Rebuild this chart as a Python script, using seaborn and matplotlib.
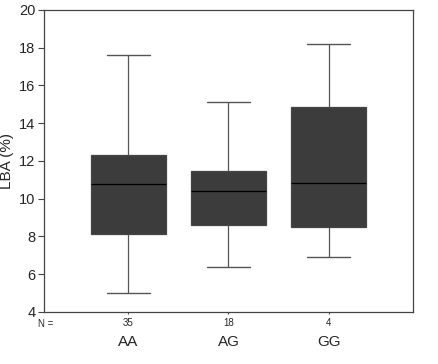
import numpy as np
import pandas as pd
import matplotlib
matplotlib.use('Agg')
import matplotlib.pyplot as plt
import matplotlib.transforms as mtransforms
import seaborn as sns

# Box statistics: min, Q1, median, Q3, max
genotypes = ['AA', 'AG', 'GG']
counts = [35, 18, 4]
lba_min = [5.0, 6.4, 6.9]
lba_q1 = [8.15, 8.6, 8.5]
lba_median = [10.8, 10.4, 10.85]
lba_q3 = [12.3, 11.45, 14.85]
lba_max = [17.6, 15.1, 18.2]

# five values per group reproduce exactly these quartiles with linear interpolation
rows = []
for i, g in enumerate(genotypes):
    for v in (lba_min[i], lba_q1[i], lba_median[i], lba_q3[i], lba_max[i]):
        rows.append({'genotype': g, 'lba': v})
df = pd.DataFrame(rows)

sns.set_style('white')
plt.rcParams['font.family'] = ['Liberation Sans', 'DejaVu Sans']

fig, ax = plt.subplots(figsize=(4.39, 3.64), dpi=100)
fig.subplots_adjust(left=0.1, right=0.941, top=0.973, bottom=0.143)

sns.boxplot(data=df, x='genotype', y='lba', order=genotypes, whis=(0, 100),
            width=0.75, color='#3c3c3c', saturation=1, linewidth=0.9,
            linecolor='#555555', showfliers=False,
            medianprops={'color': 'black', 'linewidth': 0.9},
            capprops={'color': '#555555', 'linewidth': 1.0},
            boxprops={'edgecolor': '#444444'}, ax=ax)

# caps narrower than the boxes
for line in ax.lines:
    xd = line.get_xdata()
    yd = line.get_ydata()
    if len(xd) == 2 and yd[0] == yd[1] and yd[0] in lba_min + lba_max:
        c = (xd[0] + xd[1]) / 2
        line.set_xdata([c - 0.215, c + 0.215])

ax.set_xlim(-0.84, 2.84)
ax.set_ylim(4, 20)
ax.set_yticks(np.arange(4, 21, 2))
ax.tick_params(axis='y', labelsize=10.5, length=4, width=0.8, color='#444444', direction='out', left=True, pad=2)
ax.tick_params(axis='x', labelsize=7, length=1.5, width=0.8, color='#444444', direction='out', bottom=True, pad=3)
ax.set_xticks(range(len(genotypes)))
ax.set_xticklabels([str(n) for n in counts])
ax.set_xlabel('')
ax.set_ylabel('LBA (%)', fontsize=11, labelpad=4)

for s in ax.spines.values():
    s.set_color('#444444')
    s.set_linewidth(0.9)

trans = mtransforms.blended_transform_factory(ax.transData, ax.transAxes)
for i, g in enumerate(genotypes):
    ax.text(i, -0.075, g, transform=trans, ha='center', va='top', fontsize=11)
ax.text(-0.9, -0.022, 'N =', transform=trans, ha='left', va='top', fontsize=7)

fig.savefig('out.png', dpi=100)
